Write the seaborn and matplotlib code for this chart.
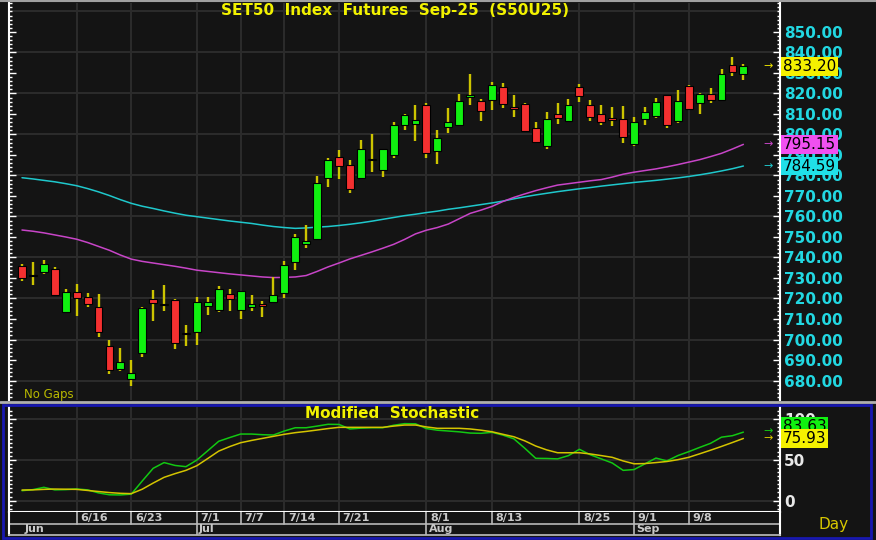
import numpy as np
import pandas as pd
import seaborn as sns
import matplotlib.pyplot as plt
from matplotlib.patches import Rectangle
from matplotlib.lines import Line2D
from matplotlib.ticker import FixedLocator, MultipleLocator

# S50U25 daily candles, one entry per trading day (9 Jun .. 15 Sep 2025)
opens = [735.9, 731.3, 732.8, 734.3, 713.3, 723.4, 720.8, 715.8, 696.7, 685.4,
         680.8, 693.3, 719.7, 716.6, 719.5, 703.1, 703.9, 716.4, 714.5, 722.0,
         714.5, 715.8, 717.4, 718.2, 722.6, 737.7, 746.7, 749.1, 778.9, 789.1,
         785.0, 778.9, 787.5, 782.9, 789.9, 804.6, 804.9, 814.3, 791.9, 803.4,
         804.7, 818.5, 816.3, 816.9, 823.3, 812.8, 815.0, 802.9, 794.3, 810.1,
         806.6, 823.3, 814.4, 809.8, 808.2, 807.5, 795.1, 807.7, 809.0, 819.2,
         806.6, 823.6, 815.1, 819.5, 816.7, 834.1, 829.3]
highs = [736.7, 737.9, 738.7, 735.4, 724.4, 727.0, 722.9, 722.0, 699.7, 695.8,
         689.9, 715.8, 723.9, 726.5, 719.8, 707.0, 720.7, 720.7, 726.2, 724.6,
         723.8, 721.8, 719.0, 730.7, 738.4, 751.5, 755.9, 779.5, 788.3, 792.4,
         787.3, 797.2, 800.2, 793.0, 806.2, 810.2, 814.3, 815.4, 802.3, 812.8,
         819.8, 829.4, 817.4, 825.7, 824.9, 819.0, 815.2, 806.3, 810.9, 815.1,
         817.2, 824.6, 817.0, 814.4, 813.6, 813.9, 808.5, 813.6, 817.7, 819.4,
         821.8, 824.3, 820.0, 822.6, 832.1, 837.7, 834.4]
lows = [728.5, 726.8, 731.9, 721.3, 713.0, 711.7, 715.9, 701.3, 683.3, 684.4,
        677.4, 691.4, 708.9, 713.8, 695.4, 696.9, 697.4, 711.9, 713.2, 713.7,
        710.1, 713.7, 711.2, 718.0, 720.0, 734.0, 744.6, 748.6, 774.5, 778.4,
        771.6, 778.4, 781.8, 779.3, 788.5, 802.1, 796.7, 788.3, 785.4, 800.8,
        804.2, 814.3, 806.5, 811.9, 812.8, 808.5, 801.1, 795.6, 793.0, 805.2,
        806.2, 815.7, 806.7, 804.6, 804.3, 795.6, 794.4, 804.6, 807.9, 803.1,
        805.6, 812.1, 809.8, 815.1, 816.4, 828.4, 826.7]
closes = [729.9, 731.0, 736.7, 721.8, 723.4, 720.3, 717.4, 703.9, 684.9, 688.8,
          683.7, 715.4, 717.9, 716.8, 698.5, 702.7, 718.5, 718.5, 724.6, 719.7,
          723.6, 717.4, 716.1, 721.5, 736.1, 750.0, 748.0, 776.3, 787.3, 784.6,
          773.5, 793.0, 788.0, 792.7, 804.7, 809.3, 807.2, 790.9, 798.5, 806.2,
          816.3, 819.0, 811.4, 823.9, 815.0, 812.5, 801.8, 796.3, 807.6, 807.9,
          814.4, 818.7, 808.7, 806.2, 806.9, 798.7, 805.9, 811.0, 815.6, 804.6,
          816.1, 812.6, 819.5, 816.7, 829.7, 830.3, 833.2]

# moving averages (cyan = slower, magenta = faster)
ma_slow = [778.9, 778.3, 777.6, 776.9, 776.0, 775.0, 773.6, 772.0, 770.2, 768.2,
           766.4, 765.0, 763.9, 762.7, 761.6, 760.6, 759.9, 759.2, 758.5, 757.8,
           757.2, 756.6, 755.8, 755.1, 754.6, 754.2, 754.4, 754.8, 755.1, 755.6,
           756.2, 756.9, 757.7, 758.6, 759.5, 760.4, 761.1, 761.9, 762.6, 763.5,
           764.2, 765.0, 765.8, 766.6, 767.5, 768.6, 769.6, 770.5, 771.3, 772.1,
           772.8, 773.5, 774.1, 774.8, 775.4, 776.0, 776.6, 777.1, 777.6, 778.2,
           778.8, 779.5, 780.3, 781.2, 782.2, 783.3, 784.59]
ma_fast = [753.4, 752.8, 752.0, 751.0, 750.0, 748.9, 747.3, 745.4, 743.5, 741.2,
           739.2, 738.1, 737.3, 736.5, 735.7, 734.8, 733.8, 733.2, 732.6, 732.0,
           731.5, 731.0, 730.5, 730.2, 730.3, 730.5, 731.2, 733.2, 735.4, 737.3,
           739.3, 741.0, 742.7, 744.5, 746.4, 748.8, 751.5, 753.3, 754.6, 756.3,
           758.9, 761.5, 763.1, 764.9, 767.3, 769.3, 771.0, 772.6, 774.0, 775.3,
           776.0, 776.7, 777.4, 778.0, 779.2, 780.6, 781.6, 782.4, 783.2, 784.2,
           785.3, 786.5, 787.7, 789.2, 790.8, 792.9, 795.15]

# modified stochastic
stoch_k = [12.2, 13.5, 16.3, 13.2, 13.5, 14.3, 13.2, 9.5, 7.2, 7.0,
           8.0, 24.0, 39.5, 46.5, 43.0, 41.5, 49.6, 61.0, 72.5, 77.0,
           81.3, 81.3, 80.5, 80.1, 85.0, 89.0, 89.0, 91.0, 93.2, 93.0,
           87.5, 88.5, 89.0, 89.0, 92.0, 94.0, 93.8, 88.0, 86.0, 85.0,
           84.0, 82.5, 82.2, 83.4, 80.0, 75.5, 64.0, 51.7, 51.5, 51.0,
           55.0, 62.7, 56.0, 51.0, 46.0, 37.0, 38.0, 45.0, 52.0, 48.5,
           55.0, 59.8, 65.0, 70.0, 77.5, 79.3, 83.63]
stoch_d = [13.0, 13.2, 13.8, 14.2, 14.0, 13.8, 12.5, 11.2, 9.9, 9.0,
           8.6, 14.0, 21.5, 28.5, 33.0, 37.0, 42.7, 51.5, 60.5, 66.0,
           70.7, 73.5, 76.0, 78.5, 81.0, 83.0, 84.5, 86.2, 88.0, 89.5,
           89.5, 89.5, 89.5, 89.5, 91.0, 92.3, 92.3, 90.0, 88.3, 88.3,
           88.3, 87.5, 86.0, 84.1, 81.0, 78.0, 73.0, 66.7, 62.0, 58.5,
           58.5, 58.5, 57.0, 55.0, 52.9, 48.5, 45.0, 45.3, 46.5, 47.8,
           50.0, 52.9, 57.2, 61.6, 66.2, 71.0, 75.93]

date_ticks = [5, 10, 16, 20, 24, 29, 37, 43, 51, 56, 61]
date_labels = ['6/16', '6/23', '7/1', '7/7', '7/14', '7/21', '8/1', '8/13', '8/25', '9/1', '9/8']
month_ticks = [0, 16, 37, 56]
month_labels = ['Jun', 'Jul', 'Aug', 'Sep']
price_ticks = list(range(680, 851, 10))

BG = '#141414'
GRID = '#2b2b2b'
UP = '#10f010'
DOWN = '#f43030'
WICK = '#ccc400'
CYAN = '#1fc8cc'
MAGENTA = '#c845c8'
LABEL = '#22d8e2'

sns.set_theme(style='dark', rc={'axes.facecolor': BG, 'figure.facecolor': BG})
plt.rcParams['font.family'] = ['DejaVu Sans']

df = pd.DataFrame({'idx': np.arange(len(closes)), 'open': opens, 'high': highs,
                   'low': lows, 'close': closes, 'ma_slow': ma_slow, 'ma_fast': ma_fast,
                   'k': stoch_k, 'd': stoch_d})

W, H = 876, 540
fig = plt.figure(figsize=(W / 100, H / 100), dpi=100)
x0, x1 = 9, 780
xlim = ((x0 - 22) / 10.93, (x1 - 22) / 10.93)

def fig_axes(top, bottom):
    return fig.add_axes([x0 / W, 1 - bottom / H, (x1 - x0) / W, (bottom - top) / H])

ax = fig_axes(3, 400)
ax_st = fig_axes(407, 512)
ax_dt = fig_axes(512, 535)

# ---- price panel ----
ax.set_xlim(*xlim)
ax.set_ylim(670.5, 864.1)
for p in range(680, 861, 20):
    ax.axhline(p, color=GRID, lw=1.5, zorder=0)
for t in date_ticks:
    ax.axvline(t, color=GRID, lw=1.5, zorder=0)

sns.lineplot(data=df, x='idx', y='ma_slow', ax=ax, color=CYAN, lw=1.1, zorder=1)
sns.lineplot(data=df, x='idx', y='ma_fast', ax=ax, color=MAGENTA, lw=1.1, zorder=1)

ax.vlines(df['idx'], df['low'], df['high'], color=WICK, lw=1.7, zorder=2)
body_low = np.minimum(df['open'], df['close'])
body_h = np.maximum(np.abs(df['close'] - df['open']), 0.7)
colors = np.where(df['close'] >= df['open'], UP, DOWN)
ax.bar(df['idx'], body_h, bottom=body_low, width=0.72, color=colors,
       edgecolor='black', linewidth=0.8, zorder=3)

ax.set_xlabel('')
ax.set_ylabel('')
ax.set_xticks([])
ax.yaxis.set_major_locator(FixedLocator(price_ticks))
ax.yaxis.set_minor_locator(MultipleLocator(2))
ax.set_yticklabels([f'{p:.2f}' for p in price_ticks])
ax.tick_params(axis='y', which='both', direction='in', left=True, right=True,
               labelleft=False, labelright=True, color='white', labelcolor=LABEL,
               labelsize=11, pad=3)
ax.tick_params(axis='y', which='major', length=5, width=1)
ax.tick_params(axis='y', which='minor', length=2.5, width=1)
for lab in ax.get_yticklabels():
    lab.set_fontweight('bold')
for s in ['top', 'bottom']:
    ax.spines[s].set_visible(False)
for s in ['left', 'right']:
    ax.spines[s].set_color('white')
    ax.spines[s].set_linewidth(1.5)

fig.text(0.5 * (217 + 573) / W, 1 - 11 / H, 'SET50  Index  Futures  Sep-25  (S50U25)',
         ha='center', va='center', color='#f2f200', fontsize=11, fontweight='bold')
fig.text(24 / W, 1 - 394.5 / H, 'No Gaps', color='#b8b800', fontsize=8.5,
         va='center', ha='left')

def tag(a, y, text, bg, arrow_y=None, arrow_color=None):
    a.annotate(text, xy=(1.0035, y), xycoords=('axes fraction', 'data'), ha='left',
               va='center', fontsize=11, color='black', annotation_clip=False,
               bbox=dict(boxstyle='square,pad=0.12', fc=bg, ec='none'), zorder=10)
    if arrow_y is not None:
        a.annotate('→', xy=(0.984, arrow_y), xycoords=('axes fraction', 'data'),
                   ha='center', va='center', fontsize=8, color=arrow_color,
                   annotation_clip=False, zorder=10)

tag(ax, closes[-1], f'{closes[-1]:.2f}', '#f4f000', closes[-1], '#e8e000')
tag(ax, ma_fast[-1], f'{ma_fast[-1]:.2f}', '#f050f0', ma_fast[-1], MAGENTA)
tag(ax, ma_slow[-1], f'{ma_slow[-1]:.2f}', '#20e0e8', ma_slow[-1], CYAN)

# ---- stochastic panel ----
ax_st.set_xlim(*xlim)
ax_st.set_ylim(-13.8, 114.3)
for v in [0, 50, 100]:
    ax_st.axhline(v, color=GRID, lw=1.5, zorder=0)
for t in date_ticks:
    ax_st.axvline(t, color=GRID, lw=1.5, zorder=0)
sns.lineplot(data=df, x='idx', y='k', ax=ax_st, color='#12c812', lw=1.1, zorder=2)
sns.lineplot(data=df, x='idx', y='d', ax=ax_st, color='#d4c400', lw=1.1, zorder=2)
ax_st.set_xlabel('')
ax_st.set_ylabel('')
ax_st.set_xticks([])
ax_st.set_yticks([0, 50, 100])
ax_st.set_yticklabels(['0', '50', '100'])
ax_st.yaxis.set_minor_locator(MultipleLocator(5))
ax_st.tick_params(axis='y', which='both', direction='in', left=True, right=True,
                  labelleft=False, labelright=True, color='white', labelcolor='#e8e8e8',
                  labelsize=11, pad=3)
ax_st.tick_params(axis='y', which='major', length=5, width=1)
ax_st.tick_params(axis='y', which='minor', length=2.5, width=1)
for lab in ax_st.get_yticklabels():
    lab.set_fontweight('bold')
ax_st.spines['top'].set_visible(False)
for s in ['left', 'right', 'bottom']:
    ax_st.spines[s].set_color('white')
    ax_st.spines[s].set_linewidth(1.5)
fig.text(392 / W, 1 - 414 / H, 'Modified  Stochastic', ha='center', va='center',
         color='#f2f200', fontsize=11, fontweight='bold')

# the two value tags are stacked so they don't sit on top of each other
tag(ax_st, 90.5, f'{stoch_k[-1]:.2f}', '#10f010', 84.5, '#12c812')
tag(ax_st, 76.2, f'{stoch_d[-1]:.2f}', '#f4f000', 76.5, '#d4c400')

# ---- date rows ----
ax_dt.set_xlim(*xlim)
ax_dt.set_ylim(0, 2)
ax_dt.set_xticks([])
ax_dt.set_yticks([])
ax_dt.axhline(1, color='#b8b8b8', lw=1.2)
for t, lab in zip(date_ticks, date_labels):
    ax_dt.plot([t, t], [1, 2], color='#b8b8b8', lw=1.2)
    ax_dt.text(t + 0.32, 1.5, lab, color='#c8c8c8', fontsize=8, fontweight='bold',
               ha='left', va='center')
for t, lab in zip(month_ticks, month_labels):
    if t > 0:
        ax_dt.plot([t, t], [0, 1], color='#b8b8b8', lw=1.2)
    ax_dt.text(t + 0.2, 0.5, lab, color='#c8c8c8', fontsize=8, fontweight='bold',
               ha='left', va='center')
ax_dt.spines['top'].set_visible(False)
ax_dt.spines['bottom'].set_color('#b8b8b8')
for s in ['left', 'right']:
    ax_dt.spines[s].set_color('white')
    ax_dt.spines[s].set_linewidth(1.5)

fig.text(818 / W, 1 - 525 / H, 'Day', color='#d8c800', fontsize=11, va='center', ha='left')

# frame lines and stochastic window border
fig.add_artist(Line2D([0, 1], [1 - 0.8 / H, 1 - 0.8 / H], transform=fig.transFigure,
                      color='#a0a0a0', lw=1.5))
fig.add_artist(Line2D([0, 1], [1 - 401.5 / H, 1 - 401.5 / H], transform=fig.transFigure,
                      color='#b0b0b0', lw=2))
fig.add_artist(Rectangle((3 / W, 2.5 / H), 868 / W, (537.5 - 405) / H,
                         transform=fig.transFigure, fill=False, edgecolor='#1818b0', lw=2))

fig.savefig('out.png', dpi=100, facecolor=BG)
